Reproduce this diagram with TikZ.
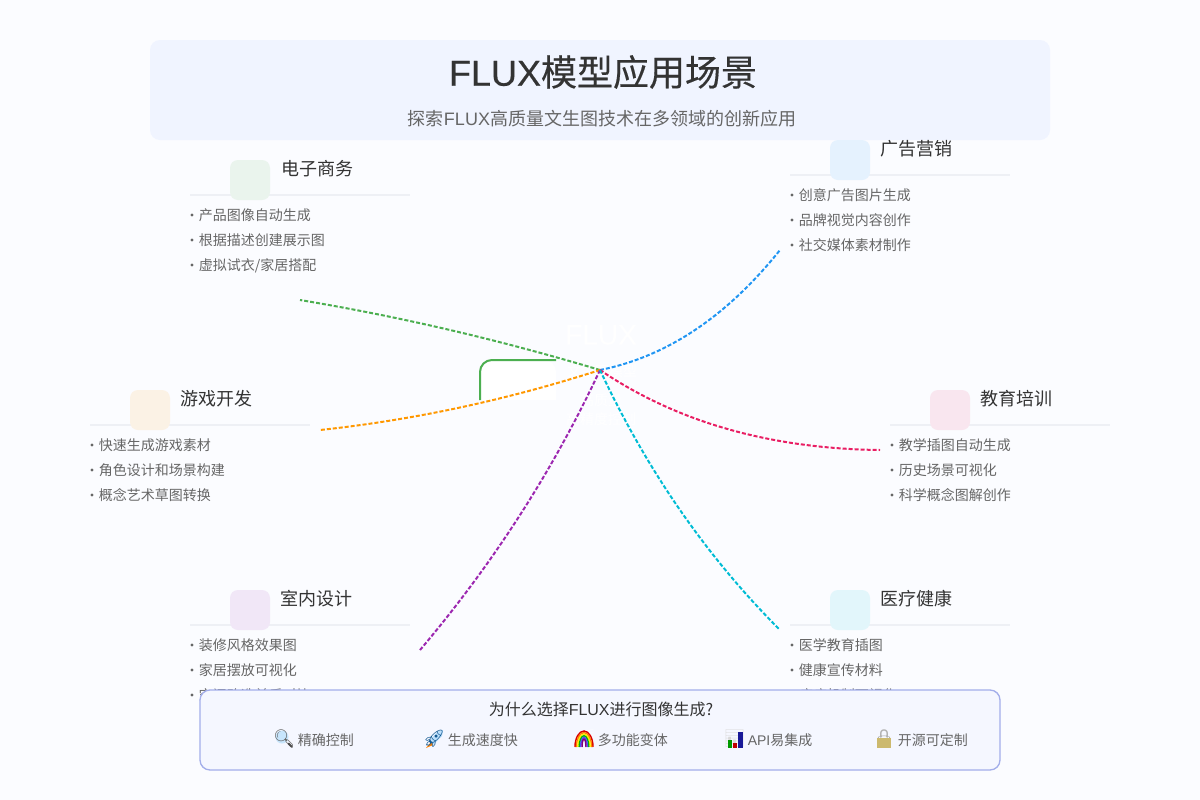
\documentclass[tikz,border=0pt]{standalone}
\usepackage{fontspec}
\usetikzlibrary{calc}
\setmainfont{Noto Sans CJK SC}
\newfontfamily\latf{Liberation Sans}
\newfontfamily\emojif{Noto Emoji}
\newfontfamily\titlef[FakeBold=0.35]{Noto Sans CJK SC}
\newfontfamily\titlelat[FakeBold=0.5]{Liberation Sans}
\newcommand{\lat}[1]{{\latf #1}}
\definecolor{bgc}{HTML}{FBFCFF}
\definecolor{panelc}{HTML}{F0F4FF}
\definecolor{boxc}{HTML}{F5F7FF}
\definecolor{boxline}{HTML}{A3AEEA}
\definecolor{rulec}{HTML}{EEF0F5}
\definecolor{darkt}{HTML}{333333}
\definecolor{midt}{HTML}{666666}
\definecolor{cgreen}{HTML}{4CAF50}
\definecolor{cblue}{HTML}{2196F3}
\definecolor{corange}{HTML}{FF9800}
\definecolor{cred}{HTML}{E91E63}
\definecolor{cpurple}{HTML}{9C27B0}
\definecolor{ccyan}{HTML}{00BCD4}
\tikzset{
  px/.style={x=0.75pt,y=-0.75pt},
  bigtitle/.style={anchor=center,text=darkt,font=\titlef\fontsize{27}{30}\selectfont,inner sep=0pt},
  subtitle/.style={anchor=center,text=midt,font=\fontsize{13.5}{16}\selectfont,inner sep=0pt},
  cardtitle/.style={anchor=west,text=darkt,font=\fontsize{13.5}{16}\selectfont,inner sep=0pt},
  carditem/.style={anchor=west,text=midt,font=\fontsize{10.5}{12}\selectfont,inner sep=0pt,text height=9.2pt,text depth=1.2pt},
  whytitle/.style={anchor=center,text=darkt,font=\fontsize{12}{14}\selectfont,inner sep=0pt},
  whyitem/.style={anchor=west,text=midt,font=\fontsize{10.5}{12}\selectfont,inner sep=0pt,text height=9.2pt,text depth=1.2pt},
  emo/.style={anchor=center,font=\emojif\fontsize{13}{14}\selectfont,inner sep=0pt},
  link/.style={line width=1.5pt,dash pattern=on 3pt off 1.5pt},
  hubtext/.style={anchor=center,text=white,inner sep=0pt},
  ruleline/.style={draw=rulec,line width=1.5pt},
  iconbox/.style={rounded corners=6pt,draw=none},
}
\newcommand{\card}[9]{%
  \draw[ruleline] (#2,#3) -- ++(220,0);
  \fill[#4,iconbox] (#2+40,#3-35) rectangle ++(40,40);
  \node[cardtitle] (#1t) at (#6,#3-26) {#5};
  \foreach \yy/\tt in {20/{#7},45/{#8},70/{#9}} {
    \fill[midt] (#2+2,#3+\yy) circle (1.7);
    \node[carditem] at (#2+8.5,#3+\yy) {\tt};
  }
}
% quadratic curve from hub to an end through one control point
\newcommand{\quadlink}[3]{%
  \draw[link,#1] (hub) .. controls ($(hub)!0.6667!(#2)$) and ($(#3)!0.6667!(#2)$) .. (#3);
}
\begin{document}
\begin{tikzpicture}[px]
\useasboundingbox (0,0) rectangle (1200,800);
\fill[bgc] (0,0) rectangle (1200,800);
\fill[panelc,rounded corners=7.5pt] (150,40) rectangle (1050,140);
\node[bigtitle] (title) at (603,72) {{\titlelat FLUX}模型应用场景};
\node[subtitle] (sub) at (602,118.5) {探索\lat{FLUX}高质量文生图技术在多领域的创新应用};

\card{a}{190}{195}{cgreen!10!bgc}{电子商务}{281}{产品图像自动生成}{根据描述创建展示图}{虚拟试衣/家居搭配}
\card{b}{790}{175}{cblue!10!bgc}{广告营销}{880.5}{创意广告图片生成}{品牌视觉内容创作}{社交媒体素材制作}
\card{c}{90}{425}{corange!10!bgc}{游戏开发}{180}{快速生成游戏素材}{角色设计和场景构建}{概念艺术草图转换}
\card{d}{890}{425}{cred!10!bgc}{教育培训}{980.5}{教学插图自动生成}{历史场景可视化}{科学概念图解创作}
\card{e}{190}{625}{cpurple!10!bgc}{室内设计}{280.5}{装修风格效果图}{家居摆放可视化}{空间改造前后对比}
\card{f}{790}{625}{ccyan!10!bgc}{医疗健康}{880.5}{医学教育插图}{健康宣传材料}{疾病机制可视化}

% hub
\coordinate (hub) at (600,370);
\coordinate (ga) at (300,300);
\coordinate (gb) at (780,250);
\coordinate (gc) at (320,430);
\coordinate (gd) at (880,450);
\coordinate (ge) at (420,650);
\coordinate (gf) at (780,630);
\coordinate (ca) at (450,325);
\coordinate (cb) at (700,350);
\coordinate (cc) at (460,415);
\coordinate (cd) at (715,448);
\coordinate (ce) at (530,520);
\coordinate (cf) at (670,520);
\fill[white,rounded corners=9pt] (480,400) -- (480,360) -- (556,360) [sharp corners] -- (556,400) -- cycle;
\draw[cgreen,line width=1.5pt,rounded corners=9pt] (480,400) -- (480,360) -- (556,360);
\node[hubtext,font=\titlelat\fontsize{21}{24}\selectfont] (flux) at (601,335) {FLUX};
\node[hubtext,font=\fontsize{10.5}{12}\selectfont] (hubb) at (602,371) {文生图模型};
\node[hubtext,font=\fontsize{10.5}{12}\selectfont] (hubc) at (601,400) {高质量};
\node[hubtext,font=\fontsize{10.5}{12}\selectfont] (hubd) at (601,419) {高精度控制};

\quadlink{cgreen}{ca}{ga}
\quadlink{cblue}{cb}{gb}
\quadlink{corange}{cc}{gc}
\quadlink{cred}{cd}{gd}
\quadlink{cpurple}{ce}{ge}
\quadlink{ccyan}{cf}{gf}

% why box
\draw[boxline,fill=boxc,line width=1pt,rounded corners=7.5pt] (200,690) rectangle (1000,770);
\node[whytitle] (why) at (601,709) {为什么选择\lat{FLUX}进行图像生成?};

% magnifier
\fill[cblue!25!white] (282,737) circle (6.5);
\node[emo,text=gray!80!black] (e1) at (284,739) {🔍};
\draw[black!70,line width=1.5pt,line cap=round] (288.5,743.5) -- (292,747);
\node[whyitem] (w1) at (297.5,740) {精确控制};
% rocket
\fill[cblue!30!white] (438,731) -- (443,730) -- (442,736) -- (433,745) -- (429,741) -- cycle;
\fill[orange] (431,742) -- (433,745) -- (426,748) -- cycle;
\node[emo,text=cblue!60!black] (e2) at (434,739) {🚀};
\node[whyitem] (w2) at (447.5,740) {生成速度快};
% rainbow
\node[emo,text=bgc] (e3) at (584,739) {🌈};
\foreach \rr/\ss/\cc in {9/16/red!85!black,7.6/14.4/orange,6.2/12.8/yellow,4.8/11.2/green!70!black,3.4/9.6/blue!70!white,2/8/violet}
  \draw[\cc,line width=1.1pt] (584-\rr,747) arc[start angle=180,end angle=360,x radius=\rr,y radius=\ss];
\node[whyitem] (w3) at (597.5,740) {多功能变体};
% chart
\node[emo,text=gray!30!white] (e4) at (734.5,739) {📊};
\fill[green!60!black] (727.5,740) rectangle ++(4.5,8);
\fill[red!75!black] (732.5,743) rectangle ++(4.5,5);
\fill[blue!55!black!90!white] (738,732) rectangle ++(4.5,16);
\node[whyitem] (w4) at (747.5,740) {\lat{API}易集成};
% lock
\node[emo,text=gray!60!white] (e5) at (884,739) {🔒};
\fill[olive!50!brown!60!white] (877,737.5) rectangle (891,748);
\node[whyitem] (w5) at (897.5,740) {开源可定制};
\end{tikzpicture}
\end{document}
